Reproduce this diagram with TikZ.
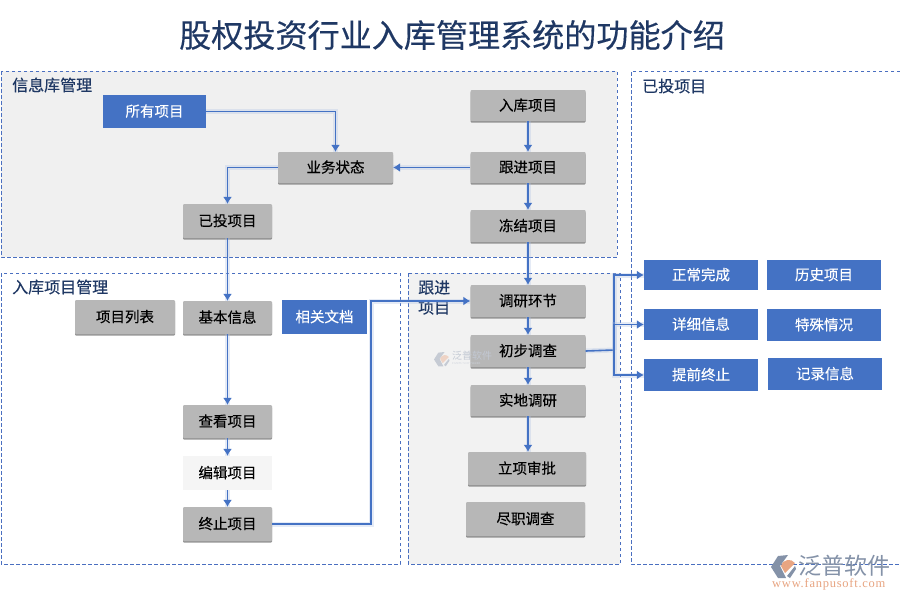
\documentclass[tikz,border=0pt]{standalone}
\usepackage{fontspec}
\setmainfont{Noto Sans CJK SC}[BoldFont={Noto Sans CJK SC},BoldFeatures={FakeBold=0.3}]
\newfontfamily\plainfont{Noto Sans CJK SC}
\newfontfamily\urlfont{Liberation Serif}[LetterSpace=6]
\usepackage{tikz}
\usetikzlibrary{arrows.meta,shadows,calc}
\definecolor{bluebox}{HTML}{4472C4}
\definecolor{graybox}{HTML}{B7B7B7}
\definecolor{navy}{HTML}{1F3864}
\definecolor{panelA}{HTML}{F0F0F0}
\definecolor{panelB}{HTML}{F2F2F2}
\definecolor{dashblue}{HTML}{4A6FC0}
\definecolor{logogray}{HTML}{8492A8}
\definecolor{logoorange}{HTML}{E8A582}
\tikzset{
  boxbase/.style={inner sep=0pt,font=\fontsize{14.5}{16}\bfseries\selectfont,anchor=center},
  graynode/.style={boxbase,fill=graybox,text=black,rounded corners=1pt,
    drop shadow={shadow xshift=0pt,shadow yshift=-1.6pt,fill=black!55,opacity=.75}},
  bluenode/.style={boxbase,fill=bluebox,text=white},
  palenode/.style={boxbase,fill=black!4,text=black},
  panel/.style={draw=dashblue,dashed,dash pattern=on 3.5pt off 2.5pt,line width=.7pt},
  paneltitle/.style={text=navy,font=\fontsize{16}{18}\bfseries\selectfont,anchor=west,inner sep=0pt},
  glow/.style={draw=bluebox!45,line width=5pt,opacity=.3},
  wire/.style={draw=bluebox,line width=1.2pt,-{Latex[length=7pt,width=9pt]},preaction={glow,-{}}},
  plainwire/.style={draw=bluebox,line width=1.6pt,preaction={glow}}
}
\newcommand{\pbox}[7]{% style, name, x1, y1, x2, y2, text
  \pgfmathsetmacro{\cxv}{(#3+#5)/2}\pgfmathsetmacro{\cyv}{(#4+#6)/2}
  \pgfmathsetmacro{\wv}{#5-#3}\pgfmathsetmacro{\hv}{#6-#4}
  \node[#1,minimum width=\wv pt,minimum height=\hv pt] (#2) at (\cxv,\cyv) {\raisebox{2pt}{#7}};}
\newcommand{\fanlogo}[4]{% x, y, scale, opacity: logo drawn in a 25 x 23 cell
  \begin{scope}[shift={(#1,#2)},x=#3pt,y=-#3pt,opacity=#4]
    \fill[logogray] (0,12) -- (7,1) -- (17,0) -- (9,11) -- (15,23) -- (7,23) -- cycle;
    \fill[logoorange] (10,11) .. controls (12,4) and (20,3) .. (24,8) -- (14,18) -- cycle;
    \fill[logogray] (16,21) -- (24,11) -- (25,14) -- (19,23) -- cycle;
  \end{scope}}
\begin{document}
\begin{tikzpicture}[x=1pt,y=-1pt]
\useasboundingbox (0,0) rectangle (900,600);
\fill[white] (0,0) rectangle (900,600);
% panels
\path[panel,fill=panelA] (1,71) rectangle (617,257);
\path[panel] (1,273) rectangle (400,564);
\path[panel,fill=panelB] (408,273) rectangle (620,564);
\draw[panel] (900,71) -- (631,71) -- (631,564) -- (900,564);
% title
\node[text=navy,font=\fontsize{32.1}{36}\bfseries\selectfont,inner sep=0pt] (title) at (452,35) {股权投资行业入库管理系统的功能介绍};
\node[paneltitle] (t1) at (12,85) {信息库管理};
\node[paneltitle] (t2) at (12,287) {入库项目管理};
\node[paneltitle,align=left,font=\fontsize{16}{20}\bfseries\selectfont] (t3) at (418,297.5) {跟进\\项目};
\node[paneltitle] (t4) at (642,86) {已投项目};
% boxes
\pbox{bluenode}{all}{103}{95}{206}{128}{所有项目}
\pbox{graynode}{biz}{278}{152}{393}{183}{业务状态}
\pbox{graynode}{done}{183}{204}{272}{238}{已投项目}
\pbox{graynode}{inb}{470.5}{90}{585.5}{121}{入库项目}
\pbox{graynode}{fol}{470.5}{152}{585.5}{183}{跟进项目}
\pbox{graynode}{frz}{470.5}{210}{585.5}{242}{冻结项目}
\pbox{graynode}{list}{75}{300}{175}{334}{项目列表}
\pbox{graynode}{base}{183}{301}{272}{334}{基本信息}
\pbox{bluenode}{docs}{282}{300}{367}{334}{相关文档}
\pbox{graynode}{view}{183}{405}{272}{438}{查看项目}
\pbox{palenode}{edit}{183}{456}{272}{490}{编辑项目}
\pbox{graynode}{stop}{183}{507}{272}{541}{终止项目}
\pbox{graynode}{res}{470.5}{285}{585.5}{317}{调研环节}
\pbox{graynode}{pre}{470.5}{335}{585.5}{367}{初步调查}
\pbox{graynode}{site}{470.5}{385}{585.5}{416}{实地调研}
\pbox{graynode}{appr}{468}{452}{586}{485}{立项审批}
\pbox{graynode}{due}{466}{502}{585}{536}{尽职调查}
\pbox{bluenode}{norm}{644}{260}{758}{290}{正常完成}
\pbox{bluenode}{hist}{767}{260}{881}{290}{历史项目}
\pbox{bluenode}{detl}{644}{309}{758}{340}{详细信息}
\pbox{bluenode}{spec}{767}{309}{881}{341}{特殊情况}
\pbox{bluenode}{early}{644}{359}{758}{391}{提前终止}
\pbox{bluenode}{rec}{768}{358}{882}{390}{记录信息}
% connectors
\coordinate (jn) at (614,350);
\coordinate (bus) at (371,350);
\draw[wire] (all.east) -| (biz.north);
\draw[wire] (fol.west) -- (biz.east);
\draw[wire] (biz.west) -| (done.north);
\draw[wire] (done.south) -- (base.north);
\draw[wire] (base.south) -- (view.north);
\draw[wire] (view.south) -- (edit.north);
\draw[wire] (edit.south) -- (stop.north);
\draw[wire] (stop.east) -| (bus) |- (res.west);
\draw[wire] (inb.south) -- (fol.north);
\draw[wire] (fol.south) -- (frz.north);
\draw[wire] (frz.south) -- (res.north);
\draw[wire] (res.south) -- (pre.north);
\draw[wire] (pre.south) -- (site.north);
\draw[wire] (site.south) -- (site.south |- appr.north);
\draw[plainwire] (pre.east) -- (jn);
\draw[wire] (jn) |- (norm.west);
\draw[wire] (jn) |- (detl.west);
\draw[wire] (jn) |- (early.west);
% watermark centre
\fanlogo{434}{352}{0.62}{0.4}
\node[text=logogray!50,font=\fontsize{10}{11}\plainfont,inner sep=0pt,anchor=west] (wm1) at (452,356) {泛普软件};
\node[text=logogray!40,font=\fontsize{3}{3}\urlfont,inner sep=0pt,anchor=west] (wm4) at (452,364) {FANPU SOFTWARE};
% logo bottom right
\fanlogo{771}{555}{1}{1}
\node[text=logogray,font=\fontsize{23}{25}\plainfont,inner sep=0pt,anchor=west] (wm2) at (798,566) {泛普软件};
\node[text=logoorange,font=\fontsize{12.5}{13}\urlfont,inner sep=0pt,anchor=west] (wm3) at (772,584) {www.fanpusoft.com};
\end{tikzpicture}
\end{document}
